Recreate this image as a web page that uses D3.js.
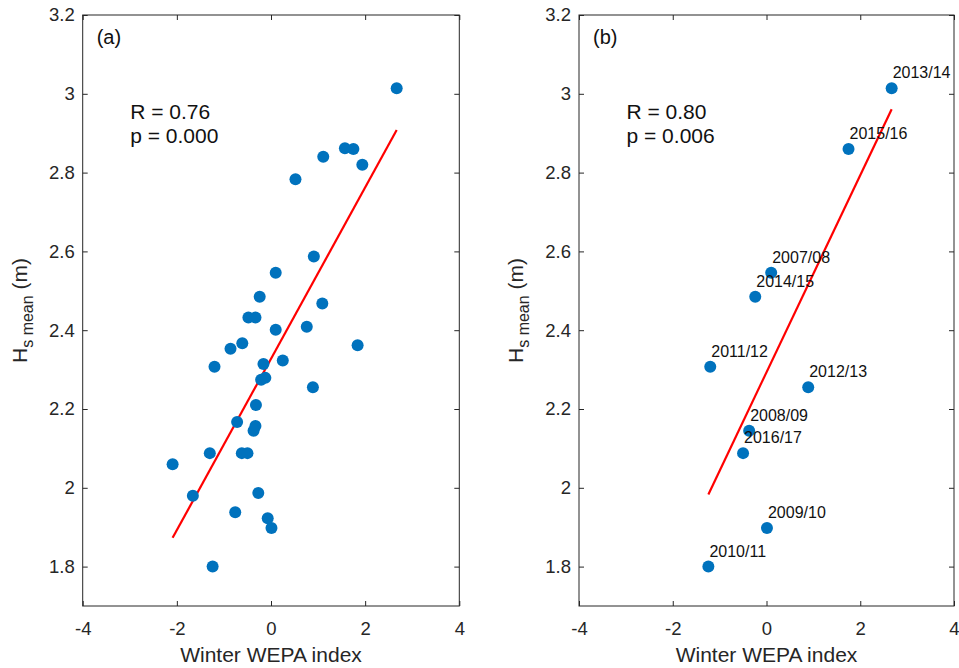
<!DOCTYPE html>
<html>
<head>
<meta charset="utf-8">
<script src="https://cdn.jsdelivr.net/npm/d3@7"></script>
<style>
  html, body { margin: 0; padding: 0; background: #fff; }
  svg { display: block; font-family: "Liberation Sans", Arial, Helvetica, sans-serif; }
</style>
</head>
<body>
<svg id="chart" width="959" height="668"></svg>
<script>
// ---------- data ----------
const xTicks = [-4, -2, 0, 2, 4];
const yTicks = [1.8, 2.0, 2.2, 2.4, 2.6, 2.8, 3.0, 3.2];

// panel (a): all winters
const xA = [2.67, 1.57, 1.75, 1.94, 1.11, 0.52, 0.91, 0.10, -0.24, -0.48, -0.33, 1.09, 0.10, 0.76,
            -0.61, -0.86, 1.84, -1.20, -0.16, 0.25, -0.21, -0.12, 0.89, -0.32, -0.72, -0.33, -0.37,
            -1.30, -0.62, -0.50, -2.09, -1.66, -0.27, -0.76, -0.07, 0.01, -1.24];
const yA = [3.014, 2.862, 2.860, 2.820, 2.840, 2.783, 2.587, 2.546, 2.485, 2.432, 2.432, 2.468, 2.401, 2.409,
            2.367, 2.353, 2.362, 2.307, 2.314, 2.323, 2.274, 2.279, 2.255, 2.210, 2.167, 2.157, 2.145,
            2.088, 2.088, 2.088, 2.060, 1.980, 1.987, 1.938, 1.923, 1.898, 1.800];
const fitXA = [-2.09, 2.67];
const fitYA = [1.873, 2.908];

// panel (b): labelled winters
const winters = ["2013/14", "2015/16", "2007/08", "2014/15", "2011/12", "2012/13", "2008/09", "2016/17", "2009/10", "2010/11"];
const xB = [2.67, 1.75, 0.10, -0.24, -1.20, 0.89, -0.37, -0.50, 0.01, -1.24];
const yB = [3.014, 2.860, 2.546, 2.485, 2.307, 2.255, 2.145, 2.088, 1.898, 1.800];
const fitXB = [-1.24, 2.67];
const fitYB = [1.983, 2.961];

const panelTags = ["(a)", "(b)"];
const statR = ["R = 0.76", "R = 0.80"];
const statP = ["p = 0.000", "p = 0.006"];

// ---------- drawing ----------
const svg = d3.select("#chart");
const axisColor = "#262626";
const dotColor = "#0072BD";
const fitColor = "#FF0000";

function panel(opts) {
  const { left, right, top, bottom, xs, ys, fx, fy, tag, r, p, labels } = opts;
  const x = d3.scaleLinear().domain([-4, 4]).range([left, right]);
  const y = d3.scaleLinear().domain([1.7, 3.2]).range([bottom, top]);
  const g = svg.append("g");

  const g3 = d3.format("~g");
  const fmt = d => g3(d).replace("\u2212", "-");
  const styleAxis = sel => {
    sel.select(".domain").remove();
    sel.selectAll(".tick line").attr("stroke", axisColor).attr("stroke-width", 1);
    sel.selectAll(".tick text").attr("fill", axisColor).style("font-size", "18.5px")
      .attr("font-family", "Liberation Sans, Arial, sans-serif");
  };

  g.append("g").attr("transform", `translate(0,${bottom})`)
    .call(d3.axisBottom(x).tickValues(xTicks).tickFormat(fmt).tickSizeInner(-5).tickSizeOuter(0).tickPadding(16))
    .call(styleAxis);
  g.append("g").attr("transform", `translate(0,${top})`)
    .call(d3.axisTop(x).tickValues(xTicks).tickFormat("").tickSizeInner(-5).tickSizeOuter(0))
    .call(styleAxis);
  g.append("g").attr("transform", `translate(${left},0)`)
    .call(d3.axisLeft(y).tickValues(yTicks).tickFormat(fmt).tickSizeInner(-5).tickSizeOuter(0).tickPadding(8))
    .call(styleAxis);
  g.append("g").attr("transform", `translate(${right},0)`)
    .call(d3.axisRight(y).tickValues(yTicks).tickFormat("").tickSizeInner(-5).tickSizeOuter(0))
    .call(styleAxis);

  g.append("rect")
    .attr("x", left).attr("y", top)
    .attr("width", right - left).attr("height", bottom - top)
    .attr("fill", "none").attr("stroke", axisColor).attr("stroke-width", 1);

  // fit line
  g.append("line")
    .attr("x1", x(fx[0])).attr("y1", y(fy[0]))
    .attr("x2", x(fx[1])).attr("y2", y(fy[1]))
    .attr("stroke", fitColor).attr("stroke-width", 2.2);

  // points
  g.append("g").selectAll("circle")
    .data(xs.map((v, i) => [v, ys[i]]))
    .join("circle")
    .attr("cx", d => x(d[0])).attr("cy", d => y(d[1]))
    .attr("r", 6).attr("fill", dotColor);

  // year labels
  if (labels) {
    g.append("g").selectAll("text")
      .data(labels.map((t, i) => [xs[i], ys[i], t]))
      .join("text")
      .attr("x", d => x(d[0]) + 1).attr("y", d => y(d[1]) - 10)
      .attr("fill", "#111").style("font-size", "16px")
      .text(d => d[2]);
  }

  // panel tag and stats
  g.append("text").attr("x", left + 14).attr("y", top + 29)
    .attr("fill", "#111").style("font-size", "20px").text(tag);
  g.append("text").attr("x", left + 47.5).attr("y", top + 104)
    .attr("fill", "#111").style("font-size", "21px").text(r);
  g.append("text").attr("x", left + 47.5).attr("y", top + 128)
    .attr("fill", "#111").style("font-size", "21px").text(p);

  // x axis label
  g.append("text").attr("x", (left + right) / 2).attr("y", 662)
    .attr("text-anchor", "middle").attr("fill", axisColor)
    .style("font-size", "21px").text("Winter WEPA index");

  // y axis label
  const yl = g.append("text")
    .attr("transform", `translate(${left - 56},${(top + bottom) / 2}) rotate(-90)`)
    .attr("text-anchor", "middle").attr("fill", axisColor)
    .style("font-size", "21px");
  yl.append("tspan").text("H");
  yl.append("tspan").attr("dy", 6).style("font-size", "16px").text("s mean");
  yl.append("tspan").attr("dy", -6).text(" (m)");
}

panel({ left: 82.7, right: 459.3, top: 15, bottom: 606, xs: xA, ys: yA, fx: fitXA, fy: fitYA,
        tag: panelTags[0], r: statR[0], p: statP[0] });
panel({ left: 579, right: 954, top: 15, bottom: 606, xs: xB, ys: yB, fx: fitXB, fy: fitYB,
        tag: panelTags[1], r: statR[1], p: statP[1], labels: winters });
</script>
</body>
</html>
